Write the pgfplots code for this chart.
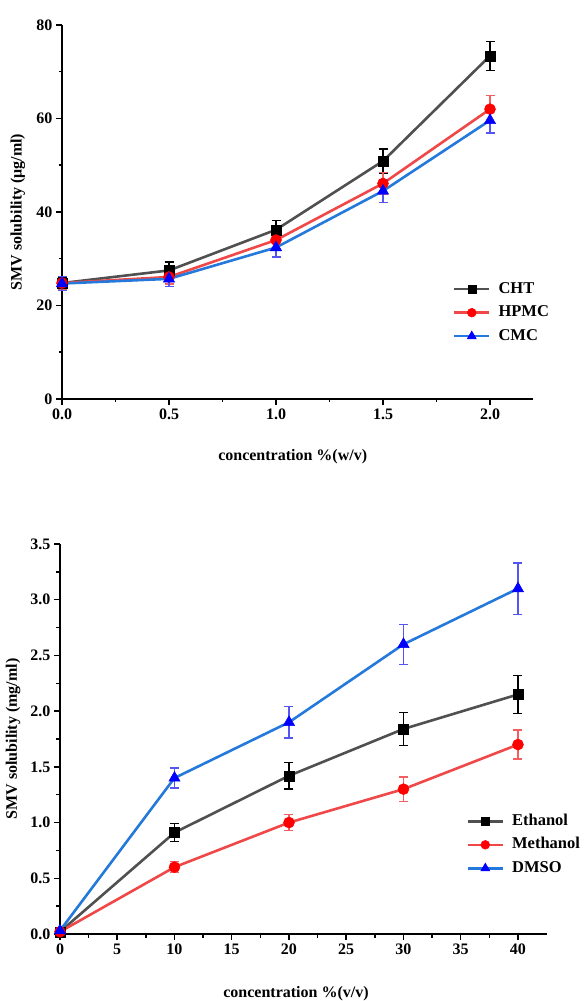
\documentclass[border=0pt]{standalone}
\usepackage{fontspec}
\setmainfont{Liberation Serif}
\usepackage{pgfplots}
\pgfplotsset{compat=1.18}
\definecolor{chtline}{HTML}{505050}
\definecolor{hpmcline}{HTML}{F04848}
\definecolor{cmcline}{HTML}{2479DB}
\definecolor{hpmcerr}{HTML}{F06060}
\definecolor{cmcerr}{HTML}{5555F0}
\pgfplotsset{
 myaxis/.style={
  scale only axis,
  axis lines=left,
  axis line style={-, line width=2.2pt, black},
  tick align=outside,
  major tick length=6pt,
  minor tick length=3.5pt,
  every tick/.style={black, line width=1.5pt},
  tick label style={font=\fontsize{16}{18}\selectfont\bfseries},
  /pgf/number format/assume math mode=true,
  label style={font=\fontsize{16}{18}\selectfont\bfseries},
  clip=false,
  legend cell align=left,
  legend style={draw=none, fill=none, inner sep=0pt, column sep=8pt,
    font=\fontsize{16.5}{19}\selectfont\bfseries, row sep=7.5pt,
    nodes={inner sep=0pt, text height=12pt, text depth=4pt}},
  legend image code/.code={\draw[mark repeat=2, mark phase=2, every mark/.append style={scale=0.8}] plot coordinates {(0pt,0pt) (17.5pt,0pt) (35pt,0pt)};},
  every axis plot/.append style={line width=2.6pt},
  error bars/y dir=both, error bars/y explicit,
 },
}
\begin{document}
\begin{tikzpicture}
\useasboundingbox (0,0) rectangle (584pt,1001pt);
% top chart
\begin{axis}[myaxis,
  at={(62pt,602pt)}, anchor=south west,
  width=470.8pt, height=374pt,
  xmin=0, xmax=2.2, ymin=0, ymax=80,
  xtick={0,0.5,1,1.5,2}, minor x tick num=1,
  ytick={0,20,40,60,80}, minor y tick num=1,
  xticklabel style={/pgf/number format/.cd, fixed, fixed zerofill, precision=1},
  xlabel={concentration \%(w/v)},
  ylabel={SMV solubility (μg/ml)},
  xlabel style={at={(axis description cs:0.49,-0.155)}, anchor=center},
  ylabel style={at={(axis description cs:-0.094,0.5)}, anchor=center},
  legend style={at={(axis description cs:0.830,0.3155)}, anchor=north west},
]
\addplot[color=chtline, mark=square*, mark size=5pt, mark options={fill=black, draw=black, line width=0.5pt},
  error bars/error bar style={black, line width=1.3pt},
  error bars/error mark options={rotate=90, mark size=4.5pt, line width=1.3pt, black}]
  coordinates {(0,24.8) +- (0,1.2) (0.5,27.5) +- (0,1.8) (1,36.2) +- (0,2.0) (1.5,50.9) +- (0,2.6) (2,73.4) +- (0,3.1)};
\addlegendentry{CHT}
\addplot[color=hpmcline, mark=*, mark size=5.5pt, mark options={fill=red, draw=red, line width=0.5pt},
  error bars/error bar style={hpmcerr, line width=1.3pt},
  error bars/error mark options={rotate=90, mark size=4.5pt, line width=1.3pt, hpmcerr}]
  coordinates {(0,24.8) +- (0,1.4) (0.5,26.1) +- (0,1.5) (1,34.0) +- (0,1.8) (1.5,46.1) +- (0,2.3) (2,62.0) +- (0,2.9)};
\addlegendentry{HPMC}
\addplot[color=cmcline, mark=triangle*, mark size=6.5pt, mark options={fill=blue, draw=blue, line width=0.5pt},
  error bars/error bar style={cmcerr, line width=1.3pt},
  error bars/error mark options={rotate=90, mark size=4.5pt, line width=1.3pt, cmcerr}]
  coordinates {(0,24.7) +- (0,1.5) (0.5,25.7) +- (0,1.6) (1,32.4) +- (0,2.0) (1.5,44.5) +- (0,2.4) (2,59.6) +- (0,2.7)};
\addlegendentry{CMC}
\end{axis}
% bottom chart
\begin{axis}[myaxis,
  at={(60pt,67pt)}, anchor=south west,
  width=486.6pt, height=390pt,
  xmin=0, xmax=42.5, ymin=0, ymax=3.5,
  xtick={0,5,...,40}, minor x tick num=1,
  ytick={0,0.5,...,3.5}, minor y tick num=1,
  yticklabel style={/pgf/number format/.cd, fixed, fixed zerofill, precision=1},
  xlabel={concentration \%(v/v)},
  ylabel={SMV solubility (mg/ml)},
  xlabel style={at={(axis description cs:0.485,-0.154)}, anchor=center},
  ylabel style={at={(axis description cs:-0.0966,0.5)}, anchor=center},
  legend style={at={(axis description cs:0.835,0.310)}, anchor=north west},
]
\addplot[color=chtline, mark=square*, mark size=5pt, mark options={fill=black, draw=black, line width=0.5pt},
  error bars/error bar style={black, line width=1.3pt},
  error bars/error mark options={rotate=90, mark size=4.5pt, line width=1.3pt, black}]
  coordinates {(0,0.02) +- (0,0) (10,0.91) +- (0,0.08) (20,1.42) +- (0,0.12) (30,1.84) +- (0,0.15) (40,2.15) +- (0,0.17)};
\addlegendentry{Ethanol}
\addplot[color=hpmcline, mark=*, mark size=5.5pt, mark options={fill=red, draw=red, line width=0.5pt},
  error bars/error bar style={hpmcerr, line width=1.3pt},
  error bars/error mark options={rotate=90, mark size=4.5pt, line width=1.3pt, hpmcerr}]
  coordinates {(0,0.02) +- (0,0) (10,0.60) +- (0,0.05) (20,1.00) +- (0,0.07) (30,1.30) +- (0,0.11) (40,1.70) +- (0,0.13)};
\addlegendentry{Methanol}
\addplot[color=cmcline, mark=triangle*, mark size=6.5pt, mark options={fill=blue, draw=blue, line width=0.5pt},
  error bars/error bar style={cmcerr, line width=1.3pt},
  error bars/error mark options={rotate=90, mark size=4.5pt, line width=1.3pt, cmcerr}]
  coordinates {(0,0.03) +- (0,0) (10,1.40) +- (0,0.09) (20,1.90) +- (0,0.14) (30,2.60) +- (0,0.18) (40,3.10) +- (0,0.23)};
\addlegendentry{DMSO}
\end{axis}
\end{tikzpicture}
\end{document}
